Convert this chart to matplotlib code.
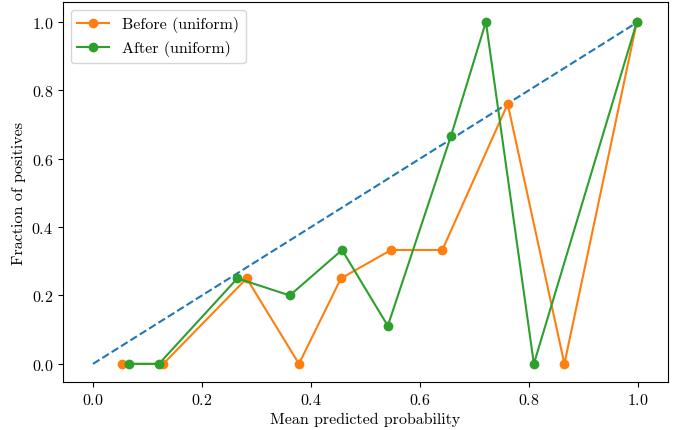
import matplotlib.pyplot as plt

plt.rcParams['font.family'] = 'serif'
plt.rcParams['font.serif'] = ['cmr10', 'DejaVu Serif']
plt.rcParams['mathtext.fontset'] = 'cm'
plt.rcParams['axes.formatter.use_mathtext'] = True
plt.rcParams['font.size'] = 11.5

# calibration curve values
before_x = [0.053, 0.129, 0.282, 0.378, 0.455, 0.547, 0.641, 0.761, 0.865, 0.998]
before_y = [0.0, 0.0, 0.25, 0.0, 0.25, 0.333, 0.333, 0.76, 0.0, 1.0]
after_x = [0.066, 0.121, 0.265, 0.361, 0.457, 0.541, 0.657, 0.721, 0.809, 0.998]
after_y = [0.0, 0.0, 0.25, 0.2, 0.333, 0.111, 0.667, 1.0, 0.0, 1.0]
diag = [0, 1]

fig = plt.figure(figsize=(6.74, 4.31), dpi=100)
ax = fig.add_axes([0.0935, 0.1114, 0.8975, 0.8816])
ax.plot(diag, diag, linestyle='--', color='C0')
ax.plot(before_x, before_y, marker='o', color='C1', label='Before (uniform)')
ax.plot(after_x, after_y, marker='o', color='C2', label='After (uniform)')
ax.set_xlim(-0.055, 1.055)
ax.set_ylim(-0.053, 1.058)
ax.set_xlabel('Mean predicted probability')
ax.set_ylabel('Fraction of positives')
ax.legend(loc='upper left')
plt.savefig('out.png')
